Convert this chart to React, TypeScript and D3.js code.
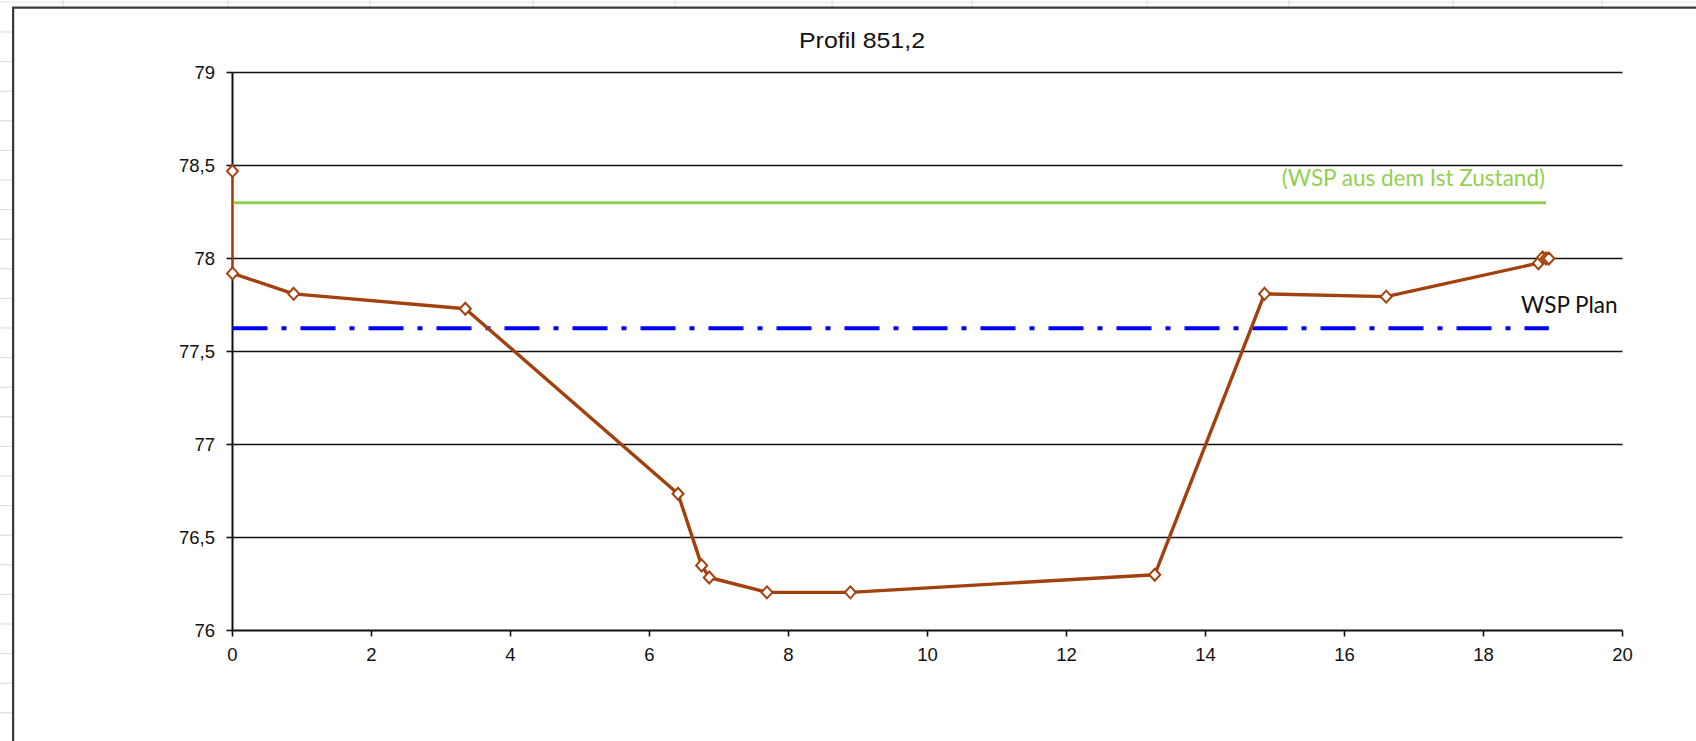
import React from "react";
import * as d3 from "d3";

const title = "Profil 851,2";
const profileX = [0, 0, 0.88, 3.35, 6.41, 6.75, 6.86, 7.69, 8.89, 13.27, 14.85, 16.6, 18.79, 18.85, 18.9, 18.94];
const profileY = [78.47, 77.92, 77.81, 77.73, 76.735, 76.35, 76.285, 76.205, 76.205, 76.3, 77.81, 77.795, 77.975, 78.005, 78.0, 78.0];
const wspIstX = [0, 18.9];
const wspIstY = [78.3, 78.3];
const wspPlanX = [0, 18.94];
const wspPlanY = [77.625, 77.625];
const xTicks = [0, 2, 4, 6, 8, 10, 12, 14, 16, 18, 20];
const yTicks = [76, 76.5, 77, 77.5, 78, 78.5, 79];
const wspIstLabel = "(WSP aus dem Ist Zustand)";
const wspPlanLabel = "WSP Plan";
const sheetCols = [63, 228, 370, 533, 675, 832, 972, 1147, 1289, 1453, 1602];

const W = 1696;
const H = 741;

export default function App() {
  const x = d3.scaleLinear().domain([0, 20]).range([232.5, 1622.5]);
  const y = d3.scaleLinear().domain([76, 79]).range([630.5, 72.5]);
  const fmt = (v: number) => String(v).replace(".", ",");
  const line = d3
    .line<[number, number]>()
    .x((d) => x(d[0]))
    .y((d) => y(d[1]));
  const prof: [number, number][] = profileX.map((v, i) => [v, profileY[i]]);
  const ist: [number, number][] = wspIstX.map((v, i) => [v, wspIstY[i]]);
  const plan: [number, number][] = wspPlanX.map((v, i) => [v, wspPlanY[i]]);
  const rowLines = d3.range(32, H, 29.6);
  const brown = "#A3410E";
  const diamond = (cx: number, cy: number) =>
    `M${cx},${cy - 6}L${cx + 5.5},${cy}L${cx},${cy + 6}L${cx - 5.5},${cy}Z`;

  return (
    <svg
      width={W}
      height={H}
      style={{ position: "absolute", left: 0, top: 0, background: "#fff" }}
      fontFamily="'Liberation Sans', Arial, sans-serif"
    >
      {/* spreadsheet background */}
      <line x1={0} x2={W} y1={2} y2={2} stroke="#e2e2e2" strokeWidth={1} />
      {sheetCols.map((c, i) => (
        <line key={"c" + i} x1={c} x2={c} y1={0} y2={7} stroke="#d8d8d8" strokeWidth={1} />
      ))}
      {rowLines.map((r, i) => (
        <line key={"r" + i} x1={0} x2={13} y1={r} y2={r} stroke="#d8d8d8" strokeWidth={1} />
      ))}
      {/* chart border */}
      <path d={`M14,${H}V8.5H${W}`} fill="none" stroke="#a0a0a0" strokeWidth={1} />
      <path d={`M13,${H}V7.5H${W}`} fill="none" stroke="#3a3a3a" strokeWidth={2} />

      {/* title */}
      <text x={862} y={48} textAnchor="middle" fontSize={22} fill="#111" textLength={126} lengthAdjust="spacingAndGlyphs">
        {title}
      </text>

      {/* gridlines */}
      {yTicks.slice(1).map((t) => (
        <line key={"g" + t} x1={x(0)} x2={x(20)} y1={y(t)} y2={y(t)} stroke="#111" strokeWidth={1.6} />
      ))}

      {/* axes */}
      <line x1={x(0)} x2={x(0)} y1={y(79)} y2={y(76)} stroke="#111" strokeWidth={2} />
      <line x1={x(0)} x2={x(20)} y1={y(76)} y2={y(76)} stroke="#111" strokeWidth={2} />
      {yTicks.map((t) => (
        <g key={"yt" + t}>
          <line x1={x(0) - 6} x2={x(0)} y1={y(t)} y2={y(t)} stroke="#111" strokeWidth={1.6} />
          <text x={215} y={y(t)} dy="0.35em" textAnchor="end" fontSize={18.5} fill="#111">
            {fmt(t)}
          </text>
        </g>
      ))}
      {xTicks.map((t) => (
        <g key={"xt" + t}>
          <line x1={x(t)} x2={x(t)} y1={y(76)} y2={y(76) + 6} stroke="#111" strokeWidth={1.6} />
          <text x={x(t)} y={661} textAnchor="middle" fontSize={18.5} fill="#111">
            {t}
          </text>
        </g>
      ))}

      {/* WSP Ist */}
      <path d={line(ist) || ""} fill="none" stroke="#92D050" strokeWidth={3} />
      <text x={1545} y={186} textAnchor="end" fontSize={22.5} fill="#92D050" fontFamily="Lato, 'Open Sans', sans-serif">
        {wspIstLabel}
      </text>

      {/* WSP Plan */}
      <path d={line(plan) || ""} fill="none" stroke="#0000FF" strokeWidth={4} strokeDasharray="35 14 5 14" />
      <text x={1521} y={313} fontSize={22.5} fill="#111" fontFamily="Lato, 'Open Sans', sans-serif">
        {wspPlanLabel}
      </text>

      {/* profile */}
      <path d={line(prof.slice(0, 2)) || ""} fill="none" stroke={brown} strokeWidth={1.6} />
      <path d={line(prof.slice(1)) || ""} fill="none" stroke={brown} strokeWidth={3.4} strokeLinejoin="round" />
      {prof.map((p, i) => (
        <path key={"m" + i} d={diamond(x(p[0]), y(p[1]))} fill="#fff" stroke={brown} strokeWidth={2} />
      ))}
    </svg>
  );
}
